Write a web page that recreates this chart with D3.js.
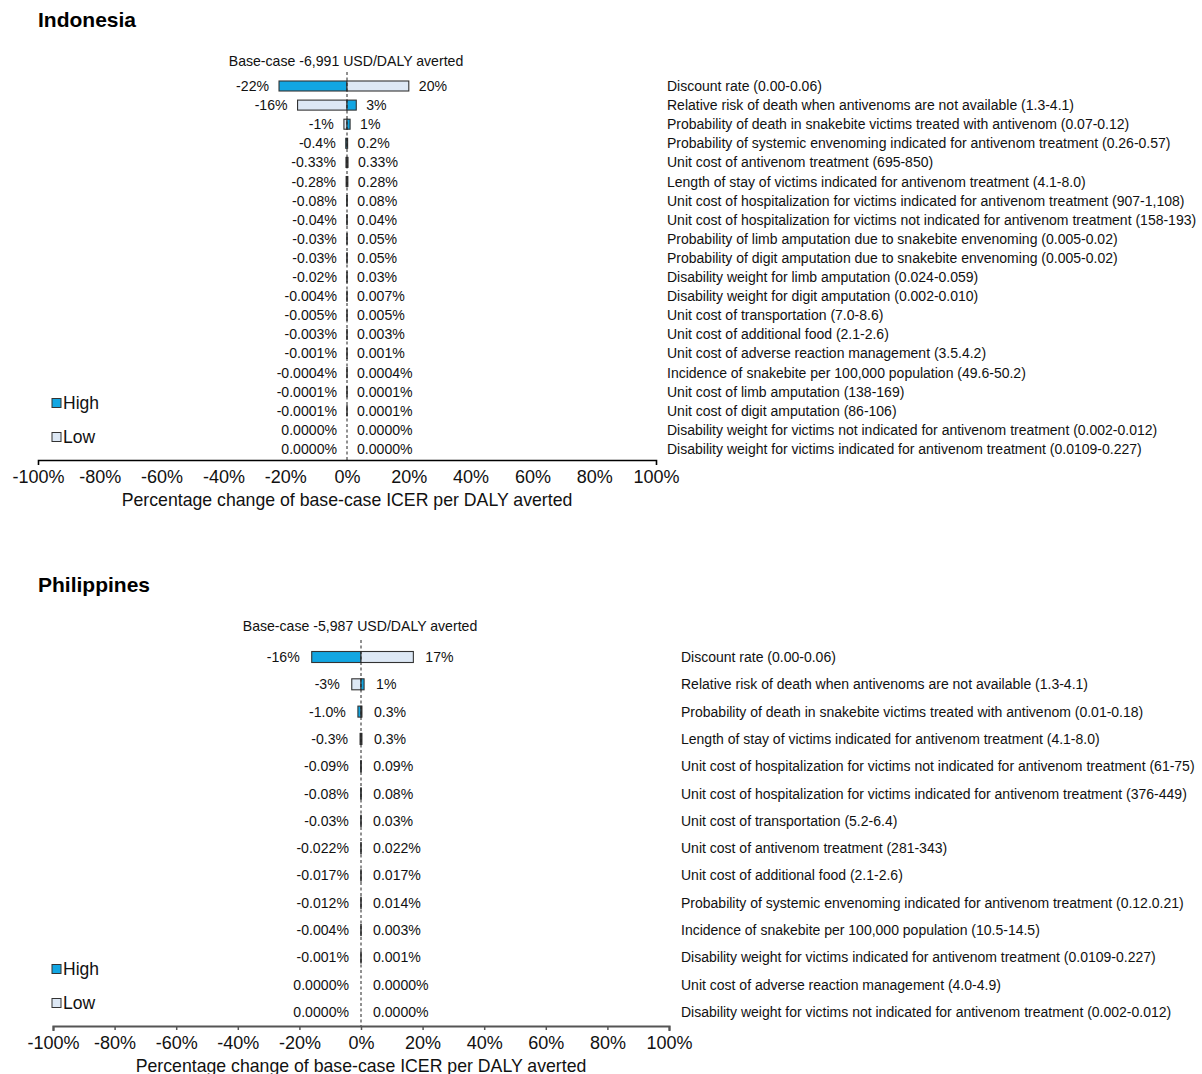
<!DOCTYPE html>
<html>
<head>
<meta charset="utf-8">
<script src="https://cdn.jsdelivr.net/npm/d3@7"></script>
<style>
  html, body { margin: 0; padding: 0; background: #fff; }
  svg { display: block; font-family: "Liberation Sans", Arial, Helvetica, sans-serif; }
</style>
</head>
<body>
<svg id="chart" width="1202" height="1074"></svg>
<script>
// ---------- Indonesia ----------
const idParams = [
  "Discount rate (0.00-0.06)",
  "Relative risk of death when antivenoms are not available (1.3-4.1)",
  "Probability of death in snakebite victims treated with antivenom (0.07-0.12)",
  "Probability of systemic envenoming indicated for antivenom treatment (0.26-0.57)",
  "Unit cost of antivenom treatment (695-850)",
  "Length of stay of victims indicated for antivenom treatment (4.1-8.0)",
  "Unit cost of hospitalization for victims indicated for antivenom treatment (907-1,108)",
  "Unit cost of hospitalization for victims not indicated for antivenom treatment (158-193)",
  "Probability of limb amputation due to snakebite envenoming (0.005-0.02)",
  "Probability of digit amputation due to snakebite envenoming (0.005-0.02)",
  "Disability weight for limb amputation (0.024-0.059)",
  "Disability weight for digit amputation (0.002-0.010)",
  "Unit cost of transportation (7.0-8.6)",
  "Unit cost of additional food (2.1-2.6)",
  "Unit cost of adverse reaction management (3.5.4.2)",
  "Incidence of snakebite per 100,000 population (49.6-50.2)",
  "Unit cost of limb amputation (138-169)",
  "Unit cost of digit amputation (86-106)",
  "Disability weight for victims not indicated for antivenom treatment (0.002-0.012)",
  "Disability weight for victims indicated for antivenom treatment (0.0109-0.227)"
];
// percentage change on the negative side and on the positive side
const idNeg = ["-22","-16","-1","-0.4","-0.33","-0.28","-0.08","-0.04","-0.03","-0.03",
               "-0.02","-0.004","-0.005","-0.003","-0.001","-0.0004","-0.0001","-0.0001","0.0000","0.0000"];
const idPos = ["20","3","1","0.2","0.33","0.28","0.08","0.04","0.05","0.05",
               "0.03","0.007","0.005","0.003","0.001","0.0004","0.0001","0.0001","0.0000","0.0000"];
// which input bound ("High" or "Low") produces the negative change
const idNegSide = ["High","Low","Low","High","High","High","High","High","High","High",
                   "High","High","High","High","High","High","High","High","High","High"];

// ---------- Philippines ----------
const phParams = [
  "Discount rate (0.00-0.06)",
  "Relative risk of death when antivenoms are not available (1.3-4.1)",
  "Probability of death in snakebite victims treated with antivenom (0.01-0.18)",
  "Length of stay of victims indicated for antivenom treatment (4.1-8.0)",
  "Unit cost of hospitalization for victims not indicated for antivenom treatment (61-75)",
  "Unit cost of hospitalization for victims indicated for antivenom treatment (376-449)",
  "Unit cost of transportation (5.2-6.4)",
  "Unit cost of antivenom treatment (281-343)",
  "Unit cost of additional food (2.1-2.6)",
  "Probability of systemic envenoming indicated for antivenom treatment (0.12.0.21)",
  "Incidence of snakebite per 100,000 population (10.5-14.5)",
  "Disability weight for victims indicated for antivenom treatment (0.0109-0.227)",
  "Unit cost of adverse reaction management (4.0-4.9)",
  "Disability weight for victims not indicated for antivenom treatment (0.002-0.012)"
];
const phNeg = ["-16","-3","-1.0","-0.3","-0.09","-0.08","-0.03","-0.022","-0.017","-0.012","-0.004","-0.001","0.0000","0.0000"];
const phPos = ["17","1","0.3","0.3","0.09","0.08","0.03","0.022","0.017","0.014","0.003","0.001","0.0000","0.0000"];
const phNegSide = ["High","Low","High","High","High","High","High","High","High","High","High","High","High","High"];

const tickValues = [-100, -80, -60, -40, -20, 0, 20, 40, 60, 80, 100];
const legendKeys = ["High", "Low"];
const colors = { High: "#12a6e2", Low: "#dde8f5" };

const svg = d3.select("#chart");

function drawPanel(cfg) {
  const g = svg.append("g");
  const x = d3.scaleLinear().domain([-100, 100]).range([cfg.x0, cfg.x1]);
  const y = d3.scalePoint().domain(cfg.params).range([cfg.yFirst, cfg.yLast]);
  const rows = cfg.params.map((p, i) => ({
    param: p,
    negLabel: cfg.neg[i], posLabel: cfg.pos[i],
    neg: parseFloat(cfg.neg[i]), pos: parseFloat(cfg.pos[i]),
    negSide: cfg.negSide[i]
  }));
  const h = cfg.barH;

  // panel title
  g.append("text").attr("x", cfg.titleX).attr("y", cfg.titleY)
    .attr("font-size", 21).attr("font-weight", "bold").attr("fill", "#000")
    .text(cfg.title);

  // base-case annotation
  g.append("text").attr("x", x(0) - 1).attr("y", cfg.baseY)
    .attr("text-anchor", "middle").attr("font-size", 14.1).attr("fill", "#111")
    .text(cfg.baseText);

  // bars: negative side then positive side
  rows.forEach(r => {
    const posSide = r.negSide === "High" ? "Low" : "High";
    [[r.neg, r.negSide], [r.pos, posSide]].forEach(([v, side]) => {
      if (v === 0) return;
      g.append("rect")
        .attr("x", Math.min(x(0), x(v)))
        .attr("y", y(r.param) - h / 2)
        .attr("width", Math.abs(x(v) - x(0)))
        .attr("height", h)
        .attr("fill", colors[side])
        .attr("stroke", "#333")
        .attr("stroke-width", 1.1);
    });
  });

  // zero reference line
  g.append("line")
    .attr("x1", x(0)).attr("x2", x(0))
    .attr("y1", cfg.dashTop).attr("y2", cfg.axisY)
    .attr("stroke", "#222").attr("stroke-width", 1)
    .attr("stroke-dasharray", "3,2.5");

  // value labels and parameter names
  rows.forEach(r => {
    const yy = y(r.param) + 5;
    g.append("text")
      .attr("x", Math.min(x(0), x(r.neg)) - cfg.labelGap)
      .attr("y", yy).attr("text-anchor", "end")
      .attr("font-size", 14.1).attr("fill", "#111")
      .text(r.negLabel + "%");
    g.append("text")
      .attr("x", Math.max(x(0), x(r.pos)) + cfg.labelGap)
      .attr("y", yy).attr("text-anchor", "start")
      .attr("font-size", 14.1).attr("fill", "#111")
      .text(r.posLabel + "%");
    g.append("text")
      .attr("x", cfg.paramX).attr("y", yy)
      .attr("font-size", 14).attr("fill", "#111")
      .text(r.param);
  });

  // x axis
  const axis = d3.axisBottom(x)
    .tickValues(tickValues)
    .tickFormat(d => d + "%")
    .tickSizeInner(cfg.innerTick)
    .tickSizeOuter(5)
    .tickPadding(6);
  const ag = g.append("g").attr("transform", `translate(0,${cfg.axisY})`).call(axis);
  ag.select(".domain").attr("stroke", cfg.axisColor).attr("stroke-width", cfg.axisWidth);
  ag.selectAll(".tick line").attr("stroke", cfg.axisColor).attr("stroke-width", 1.5);
  ag.selectAll(".tick text")
    .attr("font-size", 18).attr("fill", "#111")
    .attr("font-family", "'Liberation Sans', Arial, sans-serif")
    .attr("y", 10).attr("dy", "0.71em");

  g.append("text")
    .attr("x", x(0)).attr("y", cfg.axisY + 46)
    .attr("text-anchor", "middle").attr("font-size", 17.7).attr("fill", "#111")
    .text("Percentage change of base-case ICER per DALY averted");

  // legend
  legendKeys.forEach((k, i) => {
    const ly = cfg.legendY + i * cfg.legendStep;
    g.append("rect").attr("x", 52).attr("y", ly - 4.5).attr("width", 9).attr("height", 9)
      .attr("fill", colors[k]).attr("stroke", "#333").attr("stroke-width", 1);
    g.append("text").attr("x", 63).attr("y", ly + 6)
      .attr("font-size", 17.5).attr("fill", "#111").text(k);
  });
}

drawPanel({
  title: "Indonesia", titleX: 38, titleY: 27,
  baseText: "Base-case -6,991 USD/DALY averted", baseY: 66,
  params: idParams, neg: idNeg, pos: idPos, negSide: idNegSide,
  x0: 38, x1: 656, yFirst: 86, yLast: 449, barH: 10,
  dashTop: 72, axisY: 460, axisColor: "#000", axisWidth: 1.6, innerTick: 0,
  labelGap: 10, paramX: 667, legendY: 403, legendStep: 34
});

drawPanel({
  title: "Philippines", titleX: 38, titleY: 592,
  baseText: "Base-case -5,987 USD/DALY averted", baseY: 631,
  params: phParams, neg: phNeg, pos: phPos, negSide: phNegSide,
  x0: 53, x1: 669, yFirst: 657, yLast: 1012, barH: 11,
  dashTop: 640, axisY: 1026, axisColor: "#555", axisWidth: 2.2, innerTick: 4,
  labelGap: 12, paramX: 681, legendY: 969, legendStep: 34
});
</script>
</body>
</html>
